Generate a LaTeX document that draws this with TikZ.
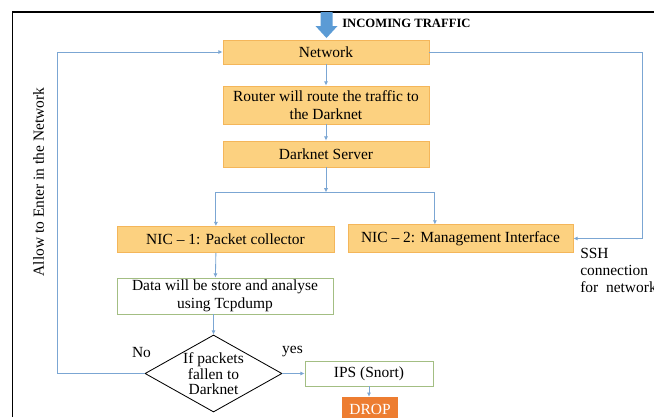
\documentclass[tikz,border=0pt]{standalone}
\usepackage{fontspec}
\setmainfont{Liberation Serif}
\usetikzlibrary{shapes.geometric,arrows.meta}

\definecolor{boxfill}{HTML}{FCD180}
\definecolor{boxedge}{HTML}{F4B65A}
\definecolor{greenedge}{HTML}{A3BE83}
\definecolor{flowblue}{HTML}{7BA6D3}
\definecolor{inblue}{HTML}{5B9BD5}
\definecolor{dropfill}{HTML}{ED7D31}

\begin{document}
\begin{tikzpicture}[
                x=0.025cm, y=-0.025cm,
                font=\fontsize{11}{13}\selectfont,
                >={Latex[length=3pt,width=3pt]},
                % orange boxes
                stage/.style={
                    draw=boxedge,
                    fill=boxfill,
                    line width=0.6pt,
                    inner sep=0pt,
                    align=center
                },
                % white boxes with green edge
                plainbox/.style={
                    draw=greenedge,
                    fill=white,
                    line width=0.6pt,
                    inner sep=0pt,
                    align=center
                },
                dropbox/.style={
                    fill=dropfill,
                    text=white,
                    inner sep=0pt,
                    minimum width=1.375cm,
                    minimum height=0.625cm
                },
                decision/.style={
                    diamond,
                    draw,
                    line width=0.6pt,
                    inner sep=0pt,
                    minimum width=3.425cm,
                    minimum height=1.925cm
                },
                flow/.style={->, draw=flowblue, line width=0.6pt}
            ]

                \useasboundingbox (0,0) rectangle (654,417);

                % ========================================================
                % 1. Frame and incoming traffic
                % ========================================================
                \draw[line width=1.2pt] (12.5,417) -- (12.5,12) -- (654,12);
                \fill[inblue] (320.5,12) -- (332.5,12) -- (332.5,26) -- (337.5,26)
                    -- (326.5,38) -- (315.5,26) -- (320.5,26) -- cycle;
                \node[anchor=base west, inner sep=0pt, font=\fontsize{9}{11}\selectfont\bfseries]
                    (incoming) at (342,27) {INCOMING TRAFFIC};

                % ========================================================
                % 2. Main chain
                % ========================================================
                \node[stage, minimum width=5.15cm, minimum height=0.6cm] (network) at (326,52) {Network};
                \node[stage, minimum width=5.15cm, minimum height=0.95cm] (router) at (326,105)
                    {Router will route the traffic to\\the Darknet};
                \node[stage, minimum width=5.15cm, minimum height=0.65cm] (server) at (326,154) {Darknet Server};

                \draw[flow] (network) -- (router);
                \draw[flow] (router) -- (server);

                % ========================================================
                % 3. The two NICs
                % ========================================================
                \node[stage, minimum width=5.425cm, minimum height=0.65cm] (nic1) at (225.5,239.5)
                    {NIC -- 1: Packet collector};
                \node[stage, minimum width=5.625cm, minimum height=0.68cm] (nic2) at (460.5,238.5)
                    {NIC -- 2: Management Interface};

                \draw[flow] (server.south) -- ++(0,25) coordinate (split);
                \draw[flow] (split) -| ([xshift=-0.24cm]nic1.north);
                \draw[flow] (split) -| ([xshift=-0.64cm]nic2.north);

                % ========================================================
                % 4. Capture and decision
                % ========================================================
                \node[plainbox, minimum width=5.4cm, minimum height=0.9cm] (data) at (225,296)
                    {Data will be store and analyse\\using Tcpdump};
                \node[decision] (check) at (213.5,373.5)
                    {\smash{\raisebox{-4.5pt}{\def\arraystretch{0.82}\begin{tabular}{@{}c@{}}If packets\\fallen to\\Darknet\end{tabular}}}};
                \node[plainbox, minimum width=3.2cm, minimum height=0.625cm] (ips) at (369,373.5) {IPS (Snort)};
                \node[dropbox] (drop) at (370,409.5) {DROP};

                \draw[flow] ([xshift=-0.24cm]nic1.south) -- ([xshift=-0.24cm]data.north);
                \draw[flow] (check.north |- data.south) -- (check.north);
                \draw[flow] (check.east) -- (ips.west);
                \draw[flow] (ips.south) -- (ips.south |- drop.north);

                \node[anchor=base, inner sep=0pt] (no) at (141.5,357) {No};
                \node[anchor=base, inner sep=0pt] (yes) at (292.5,353) {yes};

                % ========================================================
                % 5. Feedback loops
                % ========================================================
                \draw[flow] (check.west) -- ++(-87,0) coordinate (allowcorner) |- (network.west);
                \draw[flow] (network.east) -- ++(213,0) |- (nic2.east);

                \node[rotate=90, inner sep=0pt] (allow) at (38.5,182) {Allow to Enter in the Network};
                \node[anchor=north west, inner sep=0pt, align=left, font=\fontsize{11}{12}\selectfont]
                    (ssh) at (580,248) {SSH\\connection\\for\ \ network};

            \end{tikzpicture}
\end{document}
